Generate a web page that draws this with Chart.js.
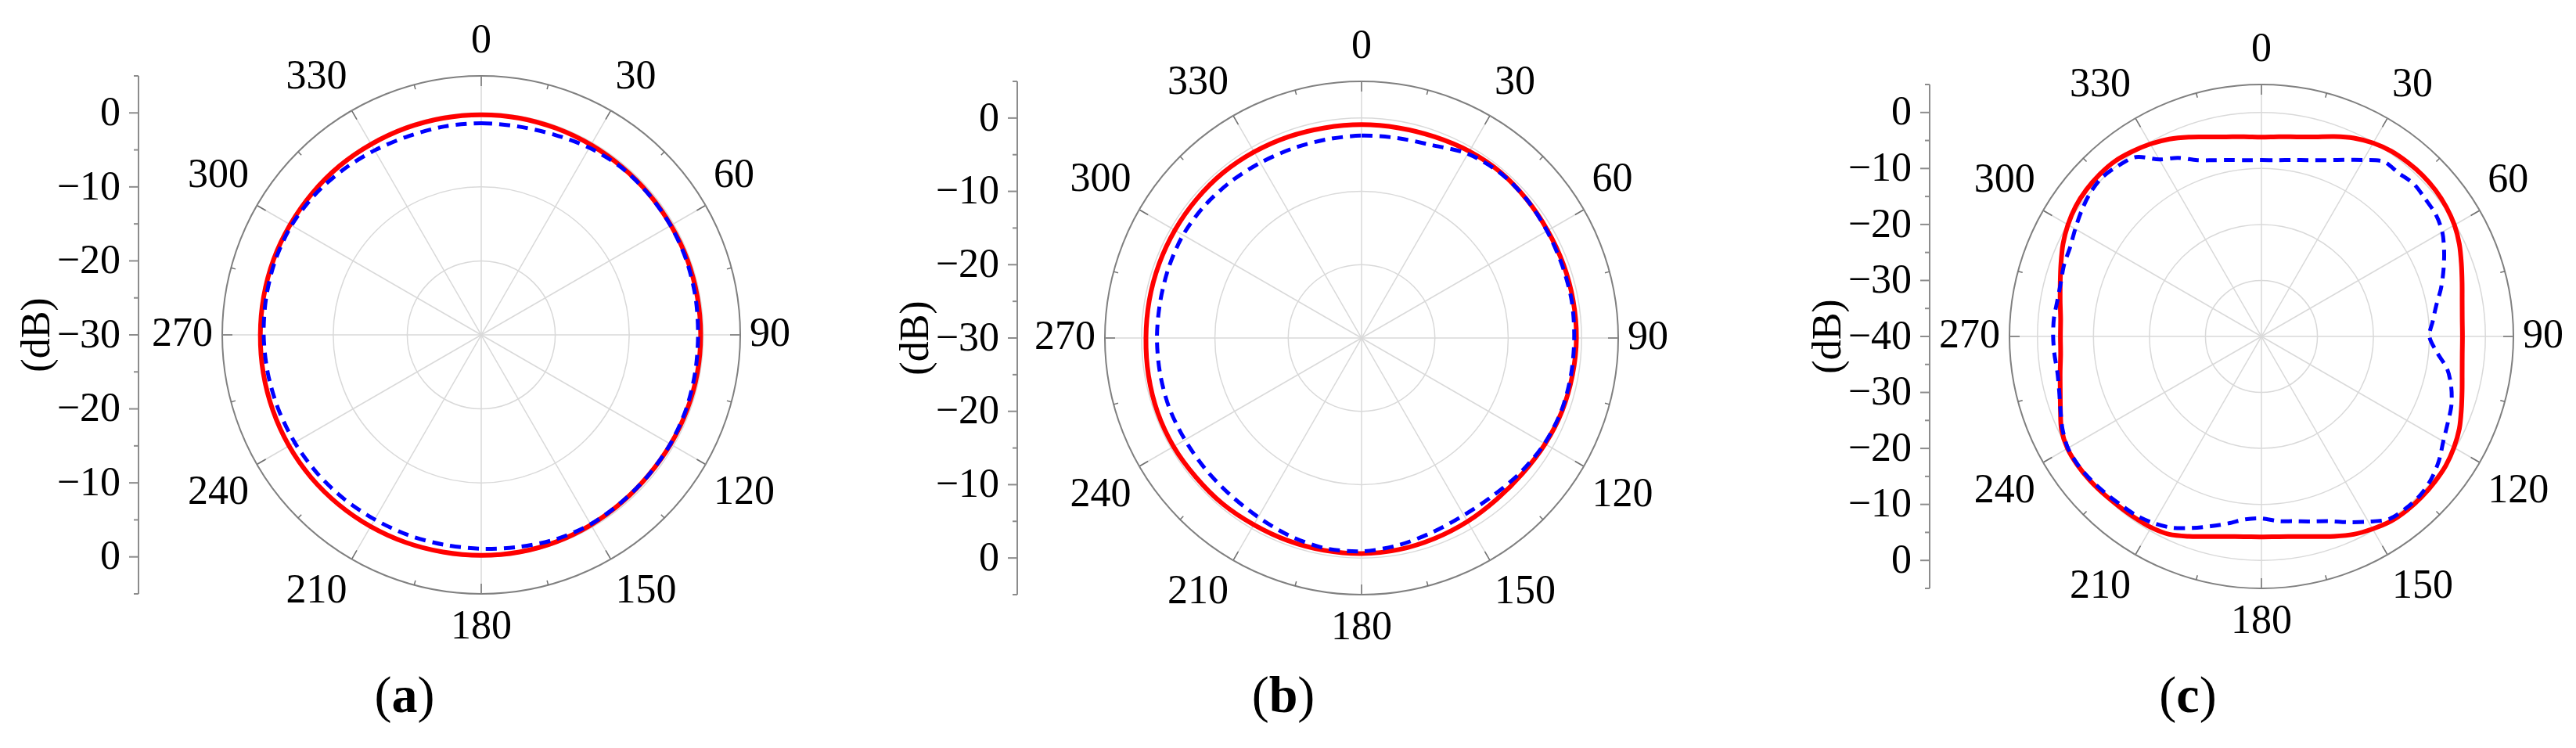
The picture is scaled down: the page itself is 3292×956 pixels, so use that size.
<!DOCTYPE html>
<html>
<head>
<meta charset="utf-8">
<script src="https://cdn.jsdelivr.net/npm/chart.js@4.4.1/dist/chart.umd.min.js"></script>
<style>
  html, body { margin: 0; padding: 0; background: #fff; }
  #wrap { position: relative; width: 3292px; height: 956px; overflow: hidden; background: #fff; }
  .panel { position: absolute; top: 0; width: 1097px; height: 956px; }
  .cap { position: absolute; top: 850px; font-family: "Liberation Serif", serif; font-size: 66px; line-height: 76px; transform: translateX(-50%); color: #000; white-space: nowrap; }
</style>
</head>
<body>
<div id="wrap">
  <div class="panel" style="left:0px"><canvas id="chartA" width="1097" height="956"></canvas></div>
  <div class="panel" style="left:1097px"><canvas id="chartB" width="1097" height="956"></canvas></div>
  <div class="panel" style="left:2194px"><canvas id="chartC" width="1097" height="956"></canvas></div>
  <div class="cap" style="left:517px">(<b>a</b>)</div>
  <div class="cap" style="left:1640px">(<b>b</b>)</div>
  <div class="cap" style="left:2796px">(<b>c</b>)</div>
</div>
<script>
// ==================== DATA ====================
// angles (deg, clockwise from top)
const angles10 = ['0','10','20','30','40','50','60','70','80','90','100','110','120','130','140','150','160','170',
                  '180','190','200','210','220','230','240','250','260','270','280','290','300','310','320','330','340','350'];
const angles5 = ['0','5','10','15','20','25','30','35','40','45','50','55','60','65','70','75','80','85',
                 '90','95','100','105','110','115','120','125','130','135','140','145','150','155','160','165','170','175',
                 '180','185','190','195','200','205','210','215','220','225','230','235','240','245','250','255','260','265',
                 '270','275','280','285','290','295','300','305','310','315','320','325','330','335','340','345','350','355'];

// (a) gain in dB
const redA  = [-0.25,-0.25,-0.3,-0.35,-0.4,-0.4,-0.4,-0.35,-0.35,-0.35,-0.35,-0.4,-0.45,-0.5,-0.45,-0.35,-0.25,-0.2,
               -0.2,-0.2,-0.15,-0.1,-0.05,0,0,-0.05,-0.1,-0.15,-0.15,-0.15,-0.2,-0.2,-0.2,-0.25,-0.25,-0.25];
const blueA = [-1.4,-1.4,-1.2,-0.8,-0.5,-0.45,-0.45,-0.5,-0.6,-0.7,-0.65,-0.55,-0.5,-0.5,-0.5,-0.45,-0.6,-0.9,
               -1.1,-1.2,-1.2,-1.2,-1.1,-1.0,-0.9,-0.8,-0.7,-0.6,-0.5,-0.4,-0.4,-0.6,-0.9,-1.2,-1.4,-1.4];

// (b)
const redB  = [-0.9,-0.9,-0.8,-0.6,-0.5,-0.6,-0.7,-0.7,-0.7,-0.7,-0.8,-0.9,-1.1,-1.3,-1.3,-1.1,-0.9,-0.7,
               -0.6,-0.6,-0.6,-0.6,-0.5,-0.5,-0.4,-0.4,-0.5,-0.6,-0.6,-0.6,-0.6,-0.6,-0.6,-0.7,-0.8,-0.9];
const blueB = [-2.4,-2.3,-2.0,-1.0,-0.6,-0.6,-0.8,-0.9,-0.9,-1.0,-1.0,-1.0,-1.2,-1.6,-2.0,-2.1,-1.8,-1.3,
               -0.9,-0.9,-1.3,-1.8,-2.1,-2.2,-2.2,-2.1,-2.1,-2.1,-2.1,-2.0,-1.9,-2.0,-2.2,-2.4,-2.5,-2.5];

// (c)
const redC  = [-4.4,-4.2,-3.8,-3.1,-2.0,-0.9,-0.1,0.4,0.6,0.7,0.6,0.3,-0.2,-1.0,-2.0,-2.9,-3.6,-4.0,
               -4.1,-4.0,-3.6,-2.9,-2.0,-1.0,-0.3,0.2,0.4,0.5,0.5,0.3,-0.3,-1.0,-2.0,-3.0,-3.7,-4.1,
               -4.2,-4.1,-3.7,-3.0,-2.0,-1.0,-0.6,-0.5,-0.4,-0.2,0.0,0.1,0.0,-0.6,-1.8,-2.8,-3.5,-4.0,
               -4.1,-4.0,-3.5,-2.8,-1.9,-0.9,-0.1,0.5,0.8,0.9,0.8,0.3,-0.3,-1.1,-2.1,-3.1,-3.8,-4.2];
const blueC = [-8.5,-8.4,-8.0,-7.4,-6.5,-5.2,-3.6,-1.9,-1.9,-1.5,-1.8,-2.0,-2.7,-4.0,-5.4,-6.8,-8.3,-9.3,
               -10.0,-8.6,-6.3,-4.9,-3.9,-3.3,-2.5,-1.3,-0.4,0.1,0.1,-0.2,-1.8,-3.4,-4.9,-5.8,-6.5,-6.9,
               -7.5,-7.2,-6.1,-4.9,-3.6,-2.3,-1.5,-1.0,-0.8,-0.5,-0.2,0.0,-0.1,-0.8,-1.8,-2.6,-3.0,-2.9,
               -2.8,-2.8,-3.0,-2.9,-2.5,-2.3,-1.6,-0.8,-0.1,0.2,-0.2,-0.9,-3.5,-4.8,-6.5,-7.4,-8.0,-8.4];

// radial rings and the dB axis on the left (the scale minimum sits at the centre)
const ringsAB = [-30, -20, -10, 0, 5];
const ringsC = [-40, -30, -20, -10, 0, 5];
const axisMajorAB = [-20, -10, 0];
const axisMinorAB = [-25, -15, -5, 5];
const axisMajorC = [-30, -20, -10, 0];
const axisMinorC = [-35, -25, -15, -5, 5];

const FONT = '"Liberation Serif", "Times New Roman", serif';
const LIGHT = '#d9d9d9';

// ==================== DECORATION PLUGIN ====================
function fmt(v) {
    return v < 0 ? '\u2212' + Math.abs(v) : String(v);
}

const polarDecor = {
    id: 'polarDecor',
    afterDraw(chart, args, opts) {
        const r = chart.scales.r;
        const ctx = chart.ctx;
        const cx = r.xCenter, cy = r.yCenter, R = r.drawingArea;
        const step = 360 / chart.data.labels.length;
        ctx.save();

        // ticks on the outer ring
        ctx.strokeStyle = '#707070';
        ctx.lineWidth = 1.5;
        for (let a = 0; a < 360; a += 15) {
            const len = a % 30 === 0 ? 13 : 6;
            const p1 = r.getPointPosition(a / step, R);
            const p2 = r.getPointPosition(a / step, R - len);
            ctx.beginPath();
            ctx.moveTo(p1.x, p1.y);
            ctx.lineTo(p2.x, p2.y);
            ctx.stroke();
        }

        // angle labels
        const fs = 52, lh = fs * 1.2;
        ctx.font = fs + 'px ' + FONT;
        ctx.fillStyle = '#000';
        ctx.textBaseline = 'middle';
        chart.data.labels.forEach((lab, i) => {
            const a = Number(lab);
            if (a % 30 !== 0) return;
            const p = r.getPointPosition(i, R + opts.labelPad);
            let y = p.y;
            if (a === 90 || a === 270) y = p.y;
            else if (a > 270 || a < 90) y = p.y - lh / 2;
            else y = p.y + lh / 2;
            ctx.textAlign = (a === 0 || a === 180) ? 'center' : (a < 180 ? 'left' : 'right');
            ctx.fillText(lab, p.x, y);
        });

        // dB axis
        const ax = cx - opts.axisGap;
        ctx.strokeStyle = '#8c8c8c';
        ctx.lineWidth = 2;
        ctx.beginPath();
        ctx.moveTo(ax, cy - R);
        ctx.lineTo(ax, cy + R);
        ctx.stroke();

        const tick = (y, len) => {
            ctx.beginPath();
            ctx.moveTo(ax - len, y);
            ctx.lineTo(ax, y);
            ctx.stroke();
        };
        ctx.fillStyle = '#000';
        ctx.textAlign = 'right';
        ctx.textBaseline = 'middle';

        // centre of the axis: the scale minimum, written once
        tick(cy, 12);
        ctx.fillText(fmt(r.min), ax - 23, cy + 2);

        for (const v of opts.major) {
            const d = r.getDistanceFromCenterForValue(v);
            tick(cy - d, 12);
            tick(cy + d, 12);
            ctx.fillText(fmt(v), ax - 23, cy - d + 2);
            ctx.fillText(fmt(v), ax - 23, cy + d + 2);
        }
        for (const v of opts.minor) {
            const d = r.getDistanceFromCenterForValue(v);
            tick(cy - d, 6);
            tick(cy + d, 6);
        }

        // unit label
        ctx.save();
        ctx.translate(ax - opts.unitGap, cy);
        ctx.rotate(-Math.PI / 2);
        ctx.textAlign = 'center';
        ctx.fillText('(dB)', 0, 0);
        ctx.restore();

        ctx.restore();
    }
};

// ==================== CHARTS ====================
function makePolar(id, labels, red, blue, minDb, rings, major, minor, pad, axisGap) {
    const ctx = document.getElementById(id).getContext('2d');
    return new Chart(ctx, {
        type: 'radar',
        data: {
            labels,
            datasets: [
                { label: 'red', data: red, borderColor: '#ff0000', borderWidth: 6, fill: false, order: 1 },
                { label: 'blue', data: blue, borderColor: '#0000ff', borderWidth: 5, borderDash: [14, 9], fill: false, order: 0 }
            ]
        },
        options: {
            responsive: false,
            animation: false,
            layout: { padding: pad },
            elements: { point: { radius: 0 }, line: { tension: 0.3 } },
            plugins: {
                legend: { display: false },
                tooltip: { enabled: false },
                polarDecor: { labelPad: 12, axisGap, unitGap: 128, major, minor }
            },
            scales: {
                r: {
                    min: minDb,
                    max: 5,
                    startAngle: 0,
                    afterBuildTicks: s => { s.ticks = rings.map(v => ({ value: v })); },
                    ticks: { display: false },
                    pointLabels: { display: false },
                    grid: {
                        circular: true,
                        color: c => (c.tick && c.tick.value === 5 ? '#808080' : LIGHT),
                        lineWidth: c => (c.tick && c.tick.value === 5 ? 2 : 1.5)
                    },
                    angleLines: {
                        color: c => (Number(c.label) % 30 === 0 ? LIGHT : 'rgba(0,0,0,0)'),
                        lineWidth: 1.5
                    }
                }
            }
        },
        plugins: [polarDecor]
    });
}

document.addEventListener('DOMContentLoaded', () => {
    makePolar('chartA', angles10, redA, blueA, -30, ringsAB, axisMajorAB, axisMinorAB,
        { left: 284, top: 97, right: 151, bottom: 197 }, 438);
    makePolar('chartB', angles10, redB, blueB, -30, ringsAB, axisMajorAB, axisMinorAB,
        { left: 315, top: 104, right: 126, bottom: 196 }, 440);
    makePolar('chartC', angles5, redC, blueC, -40, ringsC, axisMajorC, axisMinorC,
        { left: 374, top: 108, right: 79, bottom: 204 }, 424);
});
</script>
</body>
</html>
